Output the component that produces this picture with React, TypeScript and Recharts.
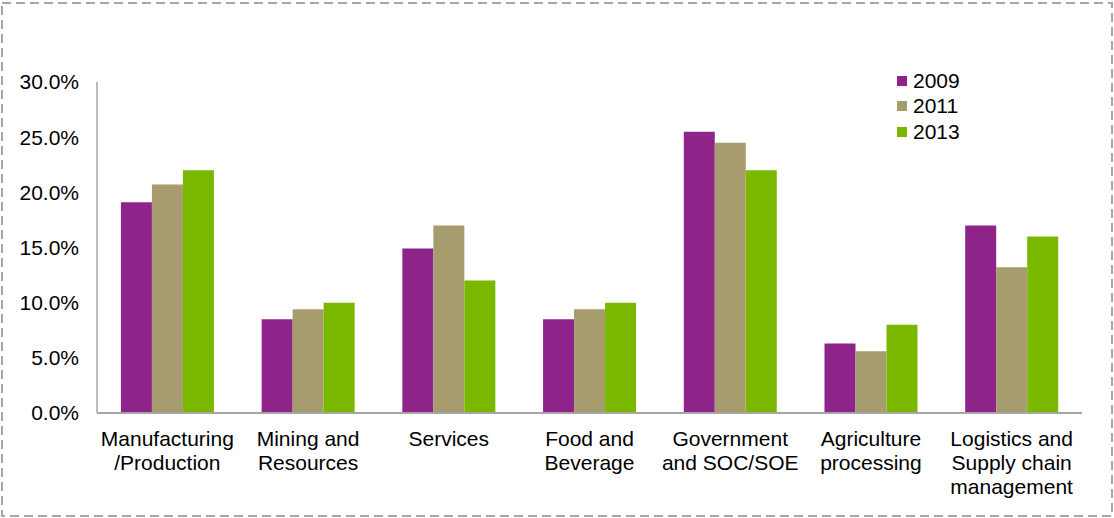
import React from 'react';
import { BarChart, Bar, XAxis, YAxis } from 'recharts';

const categories = [
  'Manufacturing\n/Production',
  'Mining and\nResources',
  'Services',
  'Food and\nBeverage',
  'Government\nand SOC/SOE',
  'Agriculture\nprocessing',
  'Logistics and\nSupply chain\nmanagement',
];
const values2009 = [19.1, 8.5, 14.9, 8.5, 25.5, 6.3, 17.0];
const values2011 = [20.7, 9.4, 17.0, 9.4, 24.5, 5.6, 13.2];
const values2013 = [22.0, 10.0, 12.0, 10.0, 22.0, 8.0, 16.0];
const yTicks = [0, 5, 10, 15, 20, 25, 30];

const SERIES = [
  { key: 'y2009', name: '2009', color: '#8E2389' },
  { key: 'y2011', name: '2011', color: '#A79C6D' },
  { key: 'y2013', name: '2013', color: '#7AB800' },
];

const data = categories.map((c, i) => ({
  category: c,
  y2009: values2009[i],
  y2011: values2011[i],
  y2013: values2013[i],
}));

const FONT = 'Liberation Sans, Arial, sans-serif';
const FS = 21;

const CategoryTick = (props: any) => {
  const { x, y, payload } = props;
  const lines = String(payload.value).split('\n');
  return (
    <text x={x} y={y + 33} textAnchor="middle" fill="#000" fontSize={FS} fontFamily={FONT}>
      {lines.map((l, i) => (
        <tspan key={i} x={x} dy={i === 0 ? 0 : 24}>
          {l}
        </tspan>
      ))}
    </text>
  );
};

export default function App() {
  return (
    <div style={{ position: 'absolute', left: 0, top: 0, width: 1114, height: 518, background: '#fff' }}>
      <svg width={1114} height={518} style={{ position: 'absolute', left: 0, top: 0 }}>
        <rect x={2} y={3} width={1110} height={513} fill="none" stroke="#A6A6A6" strokeWidth={2} strokeDasharray="9 5" />
      </svg>
      <BarChart
        width={1114}
        height={518}
        data={data}
        margin={{ top: 82, right: 32, left: 0, bottom: 25 }}
        barCategoryGap="17%"
        barGap={0}
        style={{ position: 'absolute', left: 0, top: 0 }}
      >
        <XAxis
          dataKey="category"
          tick={<CategoryTick />}
          tickLine={false}
          tickSize={0}
          tickMargin={0}
          axisLine={{ stroke: '#A6A6A6', strokeWidth: 2 }}
          interval={0}
          height={80}
        />
        <YAxis
          domain={[0, 30]}
          ticks={yTicks}
          width={97}
          tickLine={false}
          tickSize={0}
          tickMargin={18}
          axisLine={{ stroke: '#A6A6A6', strokeWidth: 1.5 }}
          tick={{ fill: '#000', fontSize: FS, fontFamily: FONT }}
          tickFormatter={(v: number) => v.toFixed(1) + '%'}
        />
        {SERIES.map((s) => (
          <Bar key={s.key} dataKey={s.key} name={s.name} fill={s.color} isAnimationActive={false} />
        ))}
      </BarChart>
      <div style={{ position: 'absolute', left: 897, top: 68, fontFamily: FONT, fontSize: FS, color: '#000' }}>
        {SERIES.map((s) => (
          <div key={s.key} style={{ display: 'flex', alignItems: 'center', height: 25.5 }}>
            <span style={{ width: 10, height: 10, background: s.color, marginRight: 6 }} />
            <span>{s.name}</span>
          </div>
        ))}
      </div>
    </div>
  );
}
